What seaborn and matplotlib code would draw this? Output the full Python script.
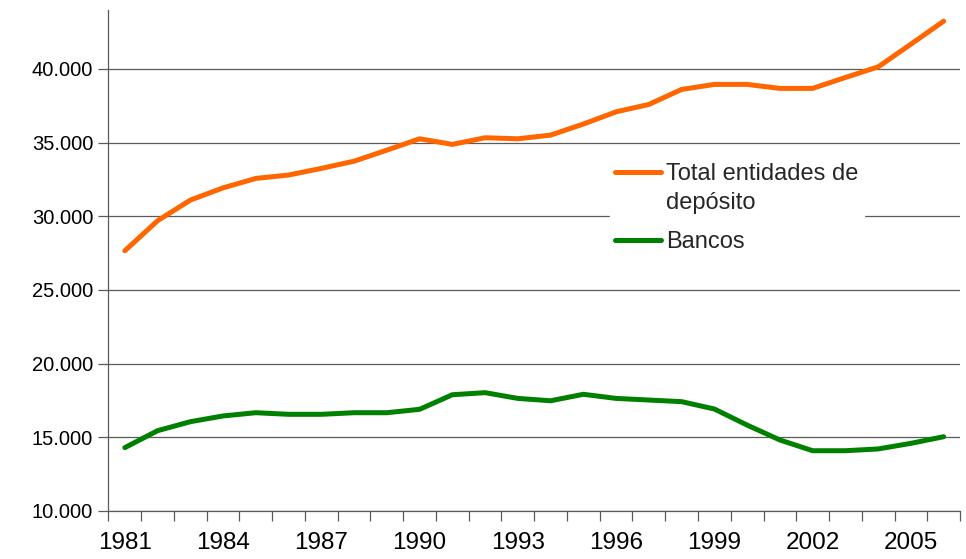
import numpy as np
import pandas as pd
import matplotlib
matplotlib.use("Agg")
import matplotlib.pyplot as plt
import seaborn as sns

# data
years = list(range(1981, 2007))
total_entidades = [27660, 29700, 31100, 31930, 32570, 32800, 33250, 33740, 34490, 35260,
                   34880, 35330, 35260, 35510, 36260, 37090, 37590, 38610, 38950, 38950,
                   38680, 38680, 39420, 40140, 41680, 43240]
bancos = [14300, 15450, 16060, 16450, 16670, 16560, 16560, 16670, 16670, 16900,
          17890, 18030, 17640, 17480, 17920, 17640, 17530, 17420, 16920, 15830,
          14820, 14090, 14090, 14210, 14590, 15040]
y_ticks = [10000, 15000, 20000, 25000, 30000, 35000, 40000]
label_total = "Total entidades de\ndepósito"
label_bancos = "Bancos"

sns.set_theme(style="white")
plt.rcParams["font.family"] = ["Liberation Sans", "DejaVu Sans"]

df = pd.DataFrame({
    "pos": list(range(len(years))) * 2,
    "valor": total_entidades + bancos,
    "serie": [label_total] * len(years) + [label_bancos] * len(years),
})

fig = plt.figure(figsize=(9.66, 5.59), dpi=100)
ax = fig.add_axes([0.1123, 0.0859, 0.9938 - 0.1123, 0.9821 - 0.0859])

sns.lineplot(data=df, x="pos", y="valor", hue="serie",
             palette={label_total: "#FF6600", label_bancos: "#008000"},
             linewidth=3.6, ax=ax, legend=True, zorder=3)

ax.set_xlim(-0.5, len(years) - 0.5)
ax.set_ylim(10000, 44000)

# y axis
ax.set_yticks(y_ticks, [f"{v:,}".replace(",", ".") for v in y_ticks])
ax.yaxis.grid(True, color="#5a5a5a", linewidth=0.9)
ax.tick_params(axis="y", which="major", direction="out", length=7, width=0.9,
               color="#5a5a5a", labelsize=14.5, pad=4, left=True, labelcolor="black")

# x axis: labels every 3 years, tick marks between categories
ax.set_xticks(range(0, len(years), 3), [str(y) for y in years[::3]])
ax.set_xticks(np.arange(-0.5, len(years), 1), minor=True)
ax.tick_params(axis="x", which="major", length=0, labelsize=17.5, pad=15, labelcolor="black")
ax.tick_params(axis="x", which="minor", direction="out", length=7, width=0.9,
               color="#5a5a5a", bottom=True)

for s in ["top", "right"]:
    ax.spines[s].set_visible(False)
for s in ["left", "bottom"]:
    ax.spines[s].set_color("#5a5a5a")
    ax.spines[s].set_linewidth(0.9)

ax.set_xlabel("")
ax.set_ylabel("")

handles, labels = ax.get_legend_handles_labels()
leg = ax.legend(handles, labels, loc="upper left",
                bbox_to_anchor=(598 / 966, 1 - 146 / 559), bbox_transform=fig.transFigure,
                frameon=True, facecolor="white", edgecolor="white", framealpha=1,
                fontsize=17, handlelength=1.95, handletextpad=0.22, borderpad=0.23,
                labelspacing=0.72, fancybox=False)
leg.set_zorder(5)
leg.get_texts()[0].set_linespacing(1.4)
for line in leg.get_lines():
    line.set_linewidth(3.6)
# put the orange handle level with the first line of its two-line label
first = leg.get_lines()[0]
first.set_ydata(np.asarray(first.get_ydata()) + 0.7 * 17)

fig.savefig("out.png", dpi=100)
